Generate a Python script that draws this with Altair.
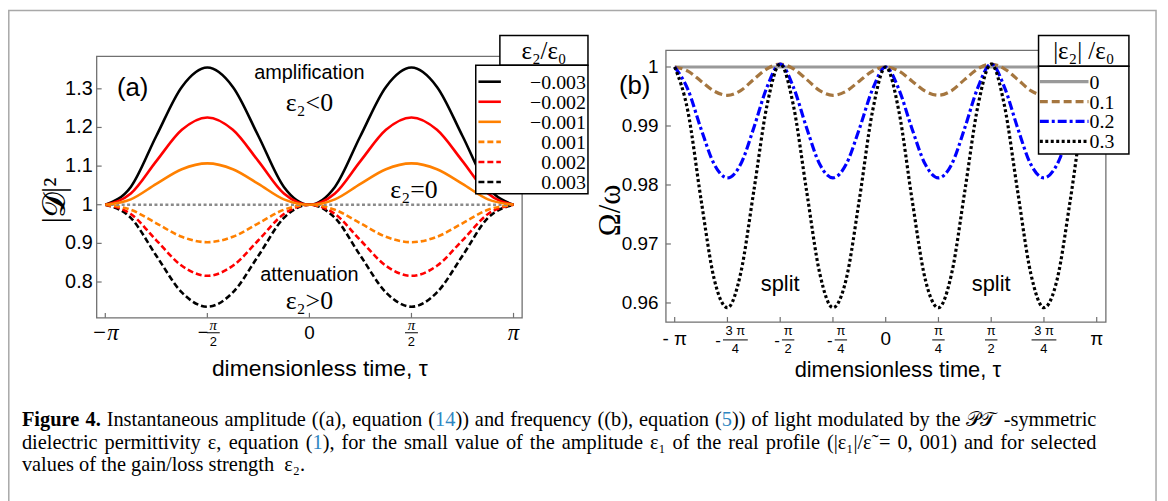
import math
import altair as alt
import pandas as pd

PI = math.pi

# ---------------- panel (a): |D|^2, tau sampled every pi/8 ----------------
A_STEPS = list(range(-8, 9))
A_NAMES = ["−0.003", "−0.002", "−0.001", "0.001", "0.002", "0.003"]
A_M003 = [1.000, 1.046, 1.178, 1.305, 1.355, 1.305, 1.178, 1.046, 1.000, 1.046, 1.178, 1.305, 1.355, 1.305, 1.178, 1.046, 1.000]
A_M002 = [1.000, 1.029, 1.113, 1.194, 1.226, 1.194, 1.113, 1.029, 1.000, 1.029, 1.113, 1.194, 1.226, 1.194, 1.113, 1.029, 1.000]
A_M001 = [1.000, 1.014, 1.054, 1.092, 1.107, 1.092, 1.054, 1.014, 1.000, 1.014, 1.054, 1.092, 1.107, 1.092, 1.054, 1.014, 1.000]
A_P001 = [1.000, 0.987, 0.952, 0.917, 0.903, 0.917, 0.952, 0.987, 1.000, 0.987, 0.952, 0.917, 0.903, 0.917, 0.952, 0.987, 1.000]
A_P002 = [1.000, 0.976, 0.908, 0.842, 0.816, 0.842, 0.908, 0.976, 1.000, 0.976, 0.908, 0.842, 0.816, 0.842, 0.908, 0.976, 1.000]
A_P003 = [1.000, 0.966, 0.868, 0.773, 0.736, 0.773, 0.868, 0.966, 1.000, 0.966, 0.868, 0.773, 0.736, 0.773, 0.868, 0.966, 1.000]
A_REF_TAU = [-1.0, 1.0]          # multiples of pi
A_REF = [1.0, 1.0]               # eps2 = 0
A_XTICKS = [-1.0, -0.5, 0.0, 0.5, 1.0]
A_YTICKS = [0.8, 0.9, 1.0, 1.1, 1.2, 1.3]
A_YLABELS = ["0.8", "0.9", "1", "1.1", "1.2", "1.3"]

# ---------------- panel (b): Omega/omega, tau sampled every pi/16 ----------------
B_STEPS = list(range(-16, 17))
B_NAMES = ["0", "0.1", "0.2", "0.3"]
B_REF_TAU = [-1.0, 1.0]
B_00 = [1.0, 1.0]
B_01 = [1.0000, 0.9993, 0.9976, 0.9959, 0.9952, 0.9960, 0.9979, 0.9997, 1.0005, 0.9997, 0.9979, 0.9960, 0.9952, 0.9959, 0.9976, 0.9993, 1.0000,
        0.9993, 0.9976, 0.9959, 0.9952, 0.9960, 0.9979, 0.9997, 1.0005, 0.9997, 0.9979, 0.9960, 0.9952, 0.9959, 0.9976, 0.9993, 1.0000]
B_02 = [1.0000, 0.9962, 0.9895, 0.9835, 0.9812, 0.9835, 0.9897, 0.9966, 1.0005, 0.9966, 0.9897, 0.9835, 0.9812, 0.9835, 0.9895, 0.9962, 1.0000,
        0.9962, 0.9895, 0.9835, 0.9812, 0.9835, 0.9897, 0.9966, 1.0005, 0.9966, 0.9897, 0.9835, 0.9812, 0.9835, 0.9895, 0.9962, 1.0000]
B_03 = [1.0000, 0.9925, 0.9775, 0.9640, 0.9592, 0.9650, 0.9790, 0.9935, 1.0005, 0.9935, 0.9790, 0.9650, 0.9592, 0.9640, 0.9775, 0.9925, 1.0000,
        0.9925, 0.9775, 0.9640, 0.9592, 0.9650, 0.9790, 0.9935, 1.0005, 0.9935, 0.9790, 0.9650, 0.9592, 0.9640, 0.9775, 0.9925, 1.0000]
B_XTICKS = [-1.0, -0.75, -0.5, -0.25, 0.0, 0.25, 0.5, 0.75, 1.0]
B_YTICKS = [0.96, 0.97, 0.98, 0.99, 1.0]
B_YLABELS = ["0.96", "0.97", "0.98", "0.99", "1"]

# tick label parts (multiple of pi, numerator, denominator)
A_FRACS = [(-0.5, "π", "2"), (0.5, "π", "2")]
B_FRACS = [(-0.75, "3 π", "4"), (-0.5, "π", "2"), (-0.25, "π", "4"),
           (0.25, "π", "4"), (0.5, "π", "2"), (0.75, "3 π", "4")]

# caption
CAPTION = [
    [("Figure 4.", True, "k"), (" Instantaneous amplitude ((a), equation (", False, "k"), ("14", False, "b"),
     (")) and frequency ((b), equation (", False, "k"), ("5", False, "b"),
     (")) of light modulated by the 𝒫𝒯 -symmetric", False, "k")],
    [("dielectric permittivity ε, equation (", False, "k"), ("1", False, "b"),
     ("), for the small value of the amplitude ε₁ of the real profile (|ε₁|/ε̃ = 0, 001) and for selected", False, "k")],
    [("values of the gain/loss strength  ε₂.", False, "k")],
]
CAP_JUSTIFY = [True, True, False]

# ---------------- styles / layout ----------------
A_COLORS = ["#000000", "#ff0000", "#ff8000", "#ff8000", "#ff0000", "#000000"]
A_DASHED = [False, False, False, True, True, True]
B_COLORS = ["#999999", "#a5763f", "#0000ff", "#000000"]
B_DASHES = [None, [8, 4], [9, 3, 3, 3], [3, 2.5]]
FRAME = "#707070"
SANS = "Liberation Sans"
SERIF = "Liberation Serif"

AXD, AXR = [-3.274, 3.274], [89.3, 517.7]
AYD, AYR = [0.7072, 1.384], [310.3, 47]
BXD, BXR = [-3.272, 3.278], [662.5, 1105.5]
BYD, BYR = [0.95677, 1.00281], [314.5, 41]

ONE = pd.DataFrame({"k": [0]})


def sc(dom, rng):
    return alt.Scale(domain=dom, range=rng, nice=False, zero=False)


def vtext(x, y, text, **kw):
    return alt.Chart(ONE).mark_text(text=text, **kw).encode(x=alt.value(x), y=alt.value(y))


def vrect(x0, x1, y0, y1, **kw):
    return alt.Chart(ONE).mark_rect(**kw).encode(
        x=alt.value(x0), x2=alt.value(x1), y=alt.value(y0), y2=alt.value(y1))


def vrule(x0, x1, y0, y1, **kw):
    return alt.Chart(ONE).mark_rule(**kw).encode(
        x=alt.value(x0), x2=alt.value(x1), y=alt.value(y0), y2=alt.value(y1))


def panel(xd, xr, yd, yr, series, xticks, yticks, ylabels, fracs, cfg):
    xs, ys = sc(xd, xr), sc(yd, yr)
    L = []
    for df, mk in series:
        L.append(alt.Chart(df).mark_line(interpolate="monotone", **mk).encode(
            x=alt.X("tau:Q", scale=xs, axis=None), y=alt.Y("v:Q", scale=ys, axis=None)))
    L.append(vrect(xr[0], xr[1], yr[1], yr[0], fill="white", fillOpacity=0, stroke=FRAME, strokeWidth=1.3))
    tx = pd.DataFrame({"t": [t * PI for t in xticks]})
    L.append(alt.Chart(tx).mark_rule(color=FRAME, strokeWidth=1.2).encode(
        x=alt.X("t:Q", scale=xs, axis=None), y=alt.value(yr[0]), y2=alt.value(yr[0] - 5)))
    ty = pd.DataFrame({"v": yticks, "lab": ylabels})
    L.append(alt.Chart(ty).mark_rule(color=FRAME, strokeWidth=1.2).encode(
        y=alt.Y("v:Q", scale=ys, axis=None), x=alt.value(xr[0]), x2=alt.value(xr[0] + 5)))
    L.append(alt.Chart(ty).mark_text(align="right", baseline="middle", font=SANS,
                                     fontSize=cfg["yfs"], color="black").encode(
        y=alt.Y("v:Q", scale=ys, axis=None), x=alt.value(cfg["ylx"]), text="lab:N"))
    whole = pd.DataFrame({"t": [-PI, PI], "lab": [cfg["mpi"], "π"]})
    L.append(alt.Chart(whole).mark_text(baseline="middle", font=cfg["pifont"], fontStyle=cfg["pistyle"],
                                        fontSize=cfg["pifs"], color="black").encode(
        x=alt.X("t:Q", scale=xs, axis=None), y=alt.value(cfg["wy"]), text="lab:N"))
    zero = pd.DataFrame({"t": [0.0], "lab": ["0"]})
    L.append(alt.Chart(zero).mark_text(baseline="middle", font=SANS, fontSize=cfg["zfs"], color="black").encode(
        x=alt.X("t:Q", scale=xs, axis=None), y=alt.value(cfg["wy"]), text="lab:N"))
    for t, num, den in fracs:
        neg = t < 0
        dx = cfg["fdx"] if neg else 0
        half = cfg["barw"] * (2 if len(num) > 1 else 1) / 2
        d = pd.DataFrame({"t": [t * PI]})
        X = alt.X("t:Q", scale=xs, axis=None)
        L.append(alt.Chart(d).mark_text(text=num, dx=dx, baseline="middle", font=cfg["pifont"],
                                        fontStyle=cfg["pistyle"], fontSize=cfg["nfs"], color="black").encode(
            x=X, y=alt.value(cfg["ny"])))
        L.append(alt.Chart(d).mark_rule(color="black", strokeWidth=1, xOffset=dx - half, x2Offset=dx + half).encode(
            x=X, x2=alt.X2("t:Q"), y=alt.value(cfg["by"])))
        L.append(alt.Chart(d).mark_text(text=den, dx=dx, baseline="middle", font=SANS,
                                        fontSize=cfg["dfs"], color="black").encode(
            x=X, y=alt.value(cfg["dy"])))
        if neg:
            L.append(alt.Chart(d).mark_text(text=cfg["minus"], dx=dx - half - cfg["mgap"], baseline="middle",
                                            font=SANS, fontSize=cfg["mfs"], color="black").encode(
                x=X, y=alt.value(cfg["my"])))
    for txt, t, v, font, fs in cfg["notes"]:
        d = pd.DataFrame({"t": [t], "v": [v]})
        L.append(alt.Chart(d).mark_text(text=txt, baseline="middle", font=font, fontSize=fs, color="black").encode(
            x=alt.X("t:Q", scale=xs, axis=None), y=alt.Y("v:Q", scale=ys, axis=None)))
    return alt.layer(*L)


# ---- panel (a)
tauA = [k * PI / 8 for k in A_STEPS]
a_vals = [A_M003, A_M002, A_M001, A_P001, A_P002, A_P003]
a_series = []
for i in [5, 4, 3, -1, 0, 1, 2]:
    if i == -1:
        a_series.append((pd.DataFrame({"tau": [t * PI for t in A_REF_TAU], "v": A_REF}),
                         dict(color="#8a8a8a", strokeWidth=2.6, strokeDash=[3, 2.5])))
        continue
    mk = dict(color=A_COLORS[i], strokeWidth=2.6)
    if A_DASHED[i]:
        mk["strokeDash"] = [6, 3]
    a_series.append((pd.DataFrame({"tau": tauA, "v": a_vals[i]}), mk))

cfgA = dict(yfs=20, ylx=85.3, mpi="−π", pifont=SERIF, pistyle="italic", pifs=23, zfs=19, wy=325.3,
            fdx=6, barw=13, nfs=15, ny=317.5, by=325.3, dfs=13, dy=334.5, minus="−", mgap=4, mfs=18, my=325.3,
            notes=[("(a)", -2.72, 1.302, SANS, 26), ("amplification", 0.0, 1.340, SANS, 20),
                   ("ε₂<0", 0.0, 1.264, SERIF, 26), ("ε₂=0", 1.61, 1.037, SERIF, 26),
                   ("attenuation", 0.0, 0.818, SANS, 20), ("ε₂>0", 0.0, 0.750, SERIF, 26)])
panelA = panel(AXD, AXR, AYD, AYR, a_series, A_XTICKS, A_YTICKS, A_YLABELS, A_FRACS, cfgA)

# ---- panel (b)
tauB = [k * PI / 16 for k in B_STEPS]
b_series = [(pd.DataFrame({"tau": [t * PI for t in B_REF_TAU], "v": B_00}),
             dict(color=B_COLORS[0], strokeWidth=3))]
for i, vals in zip([1, 2, 3], [B_01, B_02, B_03]):
    b_series.append((pd.DataFrame({"tau": tauB, "v": vals}),
                     dict(color=B_COLORS[i], strokeWidth=3.2, strokeDash=B_DASHES[i])))

cfgB = dict(yfs=19, ylx=655, mpi="- π", pifont=SANS, pistyle="normal", pifs=19, zfs=19, wy=332,
            fdx=8, barw=12.5, nfs=13, ny=324, by=332.5, dfs=13, dy=341.5, minus="-", mgap=5, mfs=17, my=333.5,
            notes=[("(b)", -3.737, 0.99675, SANS, 26), ("split", -PI / 2, 0.96325, SANS, 22),
                   ("split", PI / 2, 0.96325, SANS, 22)])
panelB = panel(BXD, BXR, BYD, BYR, b_series, B_XTICKS, B_YTICKS, B_YLABELS, B_FRACS, cfgB)

deco = []
deco.append(vrect(0.8, 1156, 0.8, 560, fill="white", fillOpacity=0, stroke="#a8a8a8", strokeWidth=1.5))

# axis titles
deco.append(vtext(314, 362, "dimensionless time, τ", font=SANS, fontSize=23, baseline="middle", color="black"))
deco.append(vtext(896, 363, "dimensionless time, τ", font=SANS, fontSize=22, baseline="middle", color="black"))
deco.append(vtext(47, 192, "|𝓓|²", font=SERIF, fontSize=31, angle=270, baseline="middle", color="black"))
deco.append(vtext(607, 202, "Ω/ω", font=SERIF, fontSize=31, angle=270, baseline="middle", color="black"))

# legend (a)
deco.append(vrect(495.3, 584, 26, 56, fill="white", stroke="black", strokeWidth=1.5))
deco.append(vtext(539.7, 42, "ε₂/ε₀", font=SERIF, fontSize=25, baseline="middle", color="black"))
deco.append(vrect(471, 584, 56, 185.3, fill="white", stroke="black", strokeWidth=1.5))
for i, name in enumerate(A_NAMES):
    y = 72.5 + 20.2 * i
    mk = dict(color=A_COLORS[i], strokeWidth=2.6)
    if A_DASHED[i]:
        mk["strokeDash"] = [6, 3]
    deco.append(vrule(473.7, 496.3, y, y, **mk))
    deco.append(vtext(582, y + 1, name, align="right", baseline="middle", font=SERIF, fontSize=20, color="black"))

# legend (b)
deco.append(vrect(1037.7, 1128.7, 26, 57, fill="white", stroke="black", strokeWidth=1.5))
deco.append(vtext(1083.2, 42, "|ε₂| /ε₀", font=SERIF, fontSize=25, baseline="middle", color="black"))
deco.append(vrect(1037.7, 1128.7, 57, 145.3, fill="white", stroke="black", strokeWidth=1.5))
for i, name in enumerate(B_NAMES):
    y = 72.5 + 20 * i
    mk = dict(color=B_COLORS[i], strokeWidth=3.2)
    if B_DASHES[i]:
        mk["strokeDash"] = B_DASHES[i]
    deco.append(vrule(1039, 1088, y, y, **mk))
    deco.append(vtext(1089, y + 1, name, align="left", baseline="middle", font=SERIF, fontSize=20, color="black"))

# caption: justified layout with Times metrics (Liberation Serif is metric compatible)
TIMES = {' ': 250, '(': 333, ')': 333, ',': 250, '-': 333, '.': 250, '/': 278, '|': 200, '=': 564,
         'A': 722, 'B': 667, 'C': 667, 'D': 722, 'E': 611, 'F': 556, 'I': 333, 'P': 556, 'T': 611,
         'a': 444, 'b': 500, 'c': 444, 'd': 500, 'e': 444, 'f': 333, 'g': 500, 'h': 500, 'i': 278,
         'j': 278, 'k': 500, 'l': 278, 'm': 778, 'n': 500, 'o': 500, 'p': 500, 'q': 500, 'r': 333,
         's': 389, 't': 278, 'u': 500, 'v': 500, 'w': 722, 'x': 500, 'y': 500, 'z': 444, 'ε': 440,
         '₁': 330, '₂': 330, '\u0303': 0, '𝒫': 780, '𝒯': 760}
TIMES_B = {'F': 611, 'i': 278, 'g': 500, 'u': 556, 'r': 444, 'e': 444, ' ': 250, '.': 250}


def tw(s, bold):
    tab = TIMES_B if bold else TIMES
    return sum(tab.get(c, 500) for c in s) / 1000.0


CAP_FS = 20.5
CAP_Y = [419, 442, 465]
CAP_X0, CAP_X1 = 14.0, 1096.0
for line, yb, just in zip(CAPTION, CAP_Y, CAP_JUSTIFY):
    toks = []
    for s, bold, col in line:
        parts = s.split(" ")
        for j, p in enumerate(parts):
            if j > 0:
                toks.append((" ", bold, col))
            if p:
                toks.append((p, bold, col))
    natural = sum(tw(t, b) * CAP_FS for t, b, c in toks)
    nsp = sum(1 for t, b, c in toks if t == " ")
    extra = max(0.0, (CAP_X1 - CAP_X0 - natural) / nsp) if (just and nsp) else 0.0
    x = CAP_X0
    for t, bold, col in toks:
        if t == " ":
            x += 0.25 * CAP_FS + extra
            continue
        kw = dict(align="left", baseline="alphabetic", font=SERIF, fontSize=CAP_FS,
                  color="#2e86c1" if col == "b" else "black")
        if bold:
            kw["fontWeight"] = "bold"
        deco.append(vtext(x, yb, t, **kw))
        x += tw(t, bold) * CAP_FS

chart = alt.layer(deco[0], panelA, panelB, *deco[1:]).resolve_scale(
    x="independent", y="independent"
).properties(width=1160, height=493, padding=0, autosize="none").configure_view(stroke=None)

chart.save("out.html", embed_options={"renderer": "svg", "actions": False})
